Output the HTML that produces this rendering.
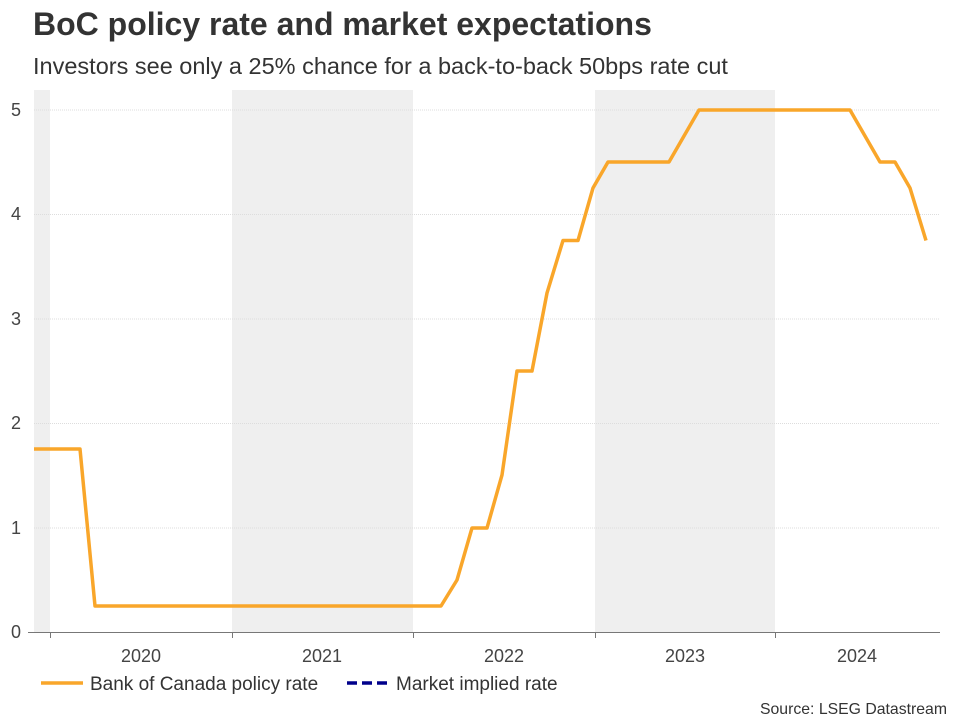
<!DOCTYPE html>
<html><head><meta charset="utf-8"><style>
body{margin:0;background:#fff;width:960px;height:720px;overflow:hidden;font-family:"Liberation Sans",sans-serif;}
</style></head><body>
<svg width="960" height="720" xmlns="http://www.w3.org/2000/svg" font-family="Liberation Sans, sans-serif">
<text x="33" y="35" font-size="32" font-weight="bold" fill="#333">BoC policy rate and market expectations</text>
<text x="33" y="74" font-size="23.5" fill="#333">Investors see only a 25% chance for a back-to-back 50bps rate cut</text>
<rect x="34" y="90" width="16" height="542" fill="#efefef"/>
<rect x="232" y="90" width="181" height="542" fill="#efefef"/>
<rect x="595" y="90" width="180" height="542" fill="#efefef"/>
<g stroke="#ddd" stroke-width="1" stroke-dasharray="1,1">
<line x1="34" x2="940" y1="110" y2="110"/><line x1="34" x2="940" y1="214.5" y2="214.5"/>
<line x1="34" x2="940" y1="319" y2="319"/><line x1="34" x2="940" y1="423.5" y2="423.5"/>
<line x1="34" x2="940" y1="528" y2="528"/></g>
<line x1="28" x2="940" y1="632.5" y2="632.5" stroke="#777"/>
<g stroke="#777"><line x1="50.5" x2="50.5" y1="632" y2="638"/><line x1="232.5" x2="232.5" y1="632" y2="638"/><line x1="413.5" x2="413.5" y1="632" y2="638"/><line x1="595.5" x2="595.5" y1="632" y2="638"/><line x1="775.5" x2="775.5" y1="632" y2="638"/></g>
<g font-size="18" fill="#444" text-anchor="end">
<text x="21" y="638">0</text><text x="21" y="534">1</text><text x="21" y="429">2</text><text x="21" y="325">3</text><text x="21" y="220">4</text><text x="21" y="116">5</text></g>
<g font-size="18" fill="#444" text-anchor="middle">
<text x="141" y="662">2020</text><text x="322" y="662">2021</text><text x="504" y="662">2022</text><text x="685" y="662">2023</text><text x="857" y="662">2024</text></g>
<polyline fill="none" stroke="#f9a62a" stroke-width="3.5" stroke-linejoin="round" points="34,449 80,449 95,606 441,606 457,580 472,528 487,528 502,475 517,371 532,371 547,293 563,240.5 578,240.5 593,188 608,162 669,162 684,136 699,110 850,110 865,136 880,162 895,162 910,188 926,240.5"/>
<line x1="41" x2="83" y1="683" y2="683" stroke="#f9a62a" stroke-width="3.5"/>
<text x="90" y="690" font-size="19" fill="#333">Bank of Canada policy rate</text>
<line x1="347" x2="390" y1="683" y2="683" stroke="#00008b" stroke-width="3.5" stroke-dasharray="10,5"/>
<text x="396" y="690" font-size="19" fill="#333">Market implied rate</text>
<text x="947" y="714" font-size="15.8" fill="#333" text-anchor="end">Source: LSEG Datastream</text>
</svg>
</body></html>
